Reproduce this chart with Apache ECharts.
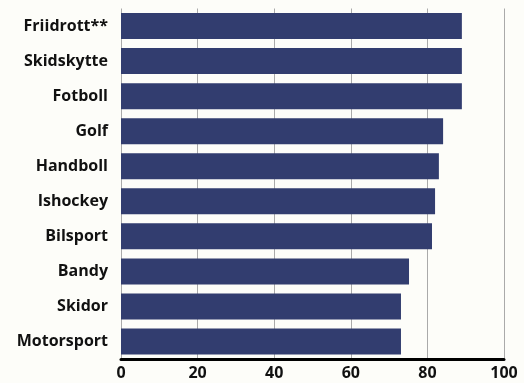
<!DOCTYPE html>
<html><head><meta charset="utf-8">
<script src="https://cdn.jsdelivr.net/npm/echarts@6/dist/echarts.min.js"></script>
<style>html,body{margin:0;padding:0;background:#fdfdf9;}#c{width:524px;height:383px;}</style>
</head><body><div id="c"></div>
<script>
const categories = ["Friidrott**","Skidskytte","Fotboll","Golf","Handboll","Ishockey","Bilsport","Bandy","Skidor","Motorsport"];
const values = [89, 89, 89, 84.1, 83, 82, 81.2, 75.2, 73.1, 73.1];
const xTicks = [0, 20, 40, 60, 80, 100];

const chart = echarts.init(document.getElementById('c'), null, {renderer:'canvas'});
chart.setOption({
  backgroundColor: '#fdfdf9',
  animation: false,
  grid: {left: 121, right: 20, top: 8.5, bottom: 24},
  xAxis: {
    type: 'value', min: xTicks[0], max: xTicks[xTicks.length-1], interval: 20,
    axisLine: {show: true, lineStyle: {color: '#000', width: 3}},
    axisTick: {show: false},
    splitLine: {show: true, lineStyle: {color: '#aaaaaa', width: 1}},
    axisLabel: {color: '#111', fontFamily: 'Open Sans', fontWeight: 'bold', fontSize: 16, margin: 6}
  },
  yAxis: {
    type: 'category', data: categories, inverse: true,
    axisLine: {show: false}, axisTick: {show: false},
    axisLabel: {color: '#111', fontFamily: 'Open Sans', fontWeight: 'bold', fontSize: 16, margin: 13}
  },
  series: [{
    type: 'bar', data: values, barWidth: 26,
    itemStyle: {color: '#323d6f'}
  }]
});
</script></body></html>
